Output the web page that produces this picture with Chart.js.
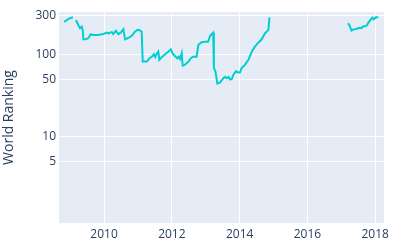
<!DOCTYPE html>
<html lang="en">
<head>
  <meta charset="UTF-8">
  <title>World Ranking</title>
  <script src="https://cdn.jsdelivr.net/npm/chart.js"></script>
  <style>
    html, body {
      margin: 0;
      padding: 0;
      background: #fff;
    }
    .wrap {
      width: 400px;
      height: 250px;
    }
  </style>
</head>
<body>
  <div class="wrap"><canvas id="rankChart" width="400" height="250"></canvas></div>

  <script>
    // decimal years and world ranking (null = gap in the line)
    var years = [
      2008.82, 2008.95, 2009.08, 2009.12, 2009.17, 2009.24, 2009.29, 2009.34, 2009.37, 2009.39,
      2009.47, 2009.54, 2009.61, 2009.68, 2009.82, 2009.98, 2010.08, 2010.13, 2010.23, 2010.27,
      2010.35, 2010.42, 2010.49, 2010.57, 2010.62, 2010.72, 2010.82, 2010.91, 2010.98, 2011.04,
      2011.11, 2011.14, 2011.26, 2011.34, 2011.41, 2011.47, 2011.51, 2011.55, 2011.60, 2011.63,
      2011.70, 2011.80, 2011.90, 2011.97, 2012.03, 2012.09, 2012.16, 2012.20, 2012.24, 2012.29,
      2012.32, 2012.39, 2012.49, 2012.56, 2012.63, 2012.73, 2012.78, 2012.88, 2012.98, 2013.07,
      2013.13, 2013.22, 2013.24, 2013.29, 2013.34, 2013.42, 2013.52, 2013.57, 2013.62, 2013.67,
      2013.72, 2013.77, 2013.81, 2013.89, 2013.96, 2014.01, 2014.06, 2014.16, 2014.26, 2014.36,
      2014.45, 2014.55, 2014.65, 2014.75, 2014.85, 2014.88, 2016.00,
      2017.20, 2017.25, 2017.30, 2017.35, 2017.40, 2017.50, 2017.55, 2017.60, 2017.64, 2017.74,
      2017.79, 2017.86, 2017.92, 2017.96, 2018.02, 2018.09
    ];
    var ranks = [
      252, 275, 288, null, 267, 232, 212, 222, 202, 155,
      155, 162, 179, 175, 175, 180, 187, 183, 191, 180,
      198, 179, 187, 206, 155, 162, 171, 192, 202, 202,
      192, 83, 83, 91, 95, 102, 94, 103, 110, 87,
      94, 102, 110, 117, 103, 97, 91, 95, 89, 105,
      74, 76, 83, 91, 95, 95, 132, 143, 145, 145,
      171, 187, 69, 62, 45, 46, 52, 54, 52, 54,
      50, 51, 57, 63, 61, 61, 69, 76, 87, 110,
      126, 141, 155, 184, 202, 287, null,
      244, 226, 198, 204, 206, 212, 215, 212, 222, 226,
      244, 267, 285, 272, 288, 288
    ];
    var xTicks = [2010, 2012, 2014, 2016, 2018];
    var yTicks = [5, 10, 50, 100, 300];

    var points = years.map(function(y, i) {
      return { x: y, y: ranks[i] };
    });

    var plotBg = {
      id: 'plotBg',
      beforeDraw: function(chart) {
        var a = chart.chartArea;
        var c = chart.ctx;
        c.save();
        c.fillStyle = '#E5ECF6';
        c.fillRect(a.left, a.top, a.right - a.left, a.bottom - a.top);
        c.restore();
      }
    };

    var fontColor = '#2a3f5f';
    var fontFamily = '"Open Sans", Arial, sans-serif';

    new Chart(document.getElementById('rankChart').getContext('2d'), {
      type: 'line',
      data: {
        datasets: [{
          data: points,
          borderColor: '#00CED1',
          borderWidth: 2,
          pointRadius: 0,
          fill: false,
          tension: 0,
          spanGaps: false
        }]
      },
      options: {
        responsive: false,
        animation: false,
        layout: { padding: { left: 0, right: 16, top: 12, bottom: 0 } },
        plugins: {
          legend: { display: false },
          tooltip: { enabled: false }
        },
        scales: {
          x: {
            type: 'linear',
            min: 2008.67,
            max: 2018.26,
            afterBuildTicks: function(scale) {
              scale.ticks = xTicks.map(function(v) { return { value: v }; });
            },
            afterFit: function(scale) { scale.height = 27; },
            grid: { color: '#ffffff', lineWidth: 1, drawTicks: false },
            border: { display: false },
            ticks: {
              padding: 4,
              color: fontColor,
              font: { family: fontFamily, size: 12 },
              callback: function(v) { return String(v); }
            }
          },
          y: {
            type: 'logarithmic',
            min: 0.89,
            max: 334,
            afterBuildTicks: function(scale) {
              scale.ticks = yTicks.map(function(v) { return { value: v }; });
            },
            afterFit: function(scale) { scale.width = 59; },
            grid: { color: '#ffffff', lineWidth: 1, drawTicks: false },
            border: { display: false },
            ticks: {
              padding: 3,
              color: fontColor,
              font: { family: fontFamily, size: 12 },
              callback: function(v) { return String(v); }
            },
            title: {
              display: true,
              text: 'World Ranking',
              color: fontColor,
              font: { family: fontFamily, size: 14 },
              padding: { top: 1, bottom: 0 }
            }
          }
        }
      },
      plugins: [plotBg]
    });
  </script>
</body>
</html>
